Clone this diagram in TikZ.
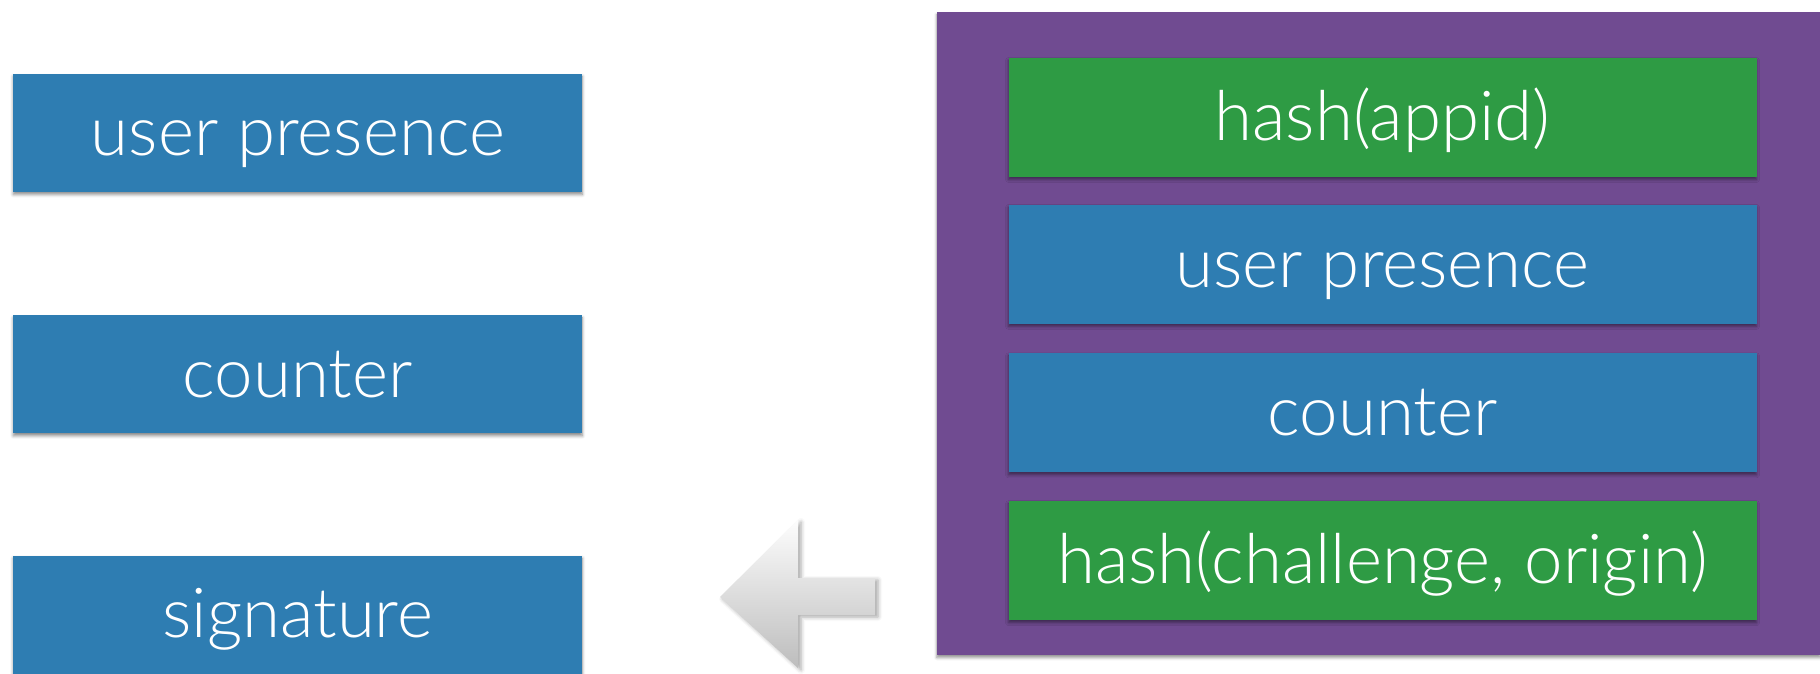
\documentclass[tikz,border=0pt]{standalone}
\usepackage{fontspec}
\setmainfont{Lato}[UprightFont=* Light]
\usetikzlibrary{positioning, shadows.blur}
\definecolor{cblue}{HTML}{2E7DB2}
\definecolor{cgreen}{HTML}{2E9B44}
\definecolor{cpurple}{HTML}{704B91}
\definecolor{cgrey}{HTML}{D2D2D2}
\tikzset{
  every picture/.style={font=\fontsize{69}{72}\selectfont},
  field/.style={fill=#1, text=white, minimum width=569pt, minimum height=118pt, inner sep=0pt,
    text height=56pt, text depth=10pt,
    blur shadow={shadow xshift=0pt, shadow yshift=-2.5pt, shadow blur radius=3pt, shadow opacity=45}},
  field/.default=cblue,
  msgfield/.style={field=#1, minimum width=748pt, minimum height=119pt},
  msgfield/.default=cblue,
  panel/.style={fill=cpurple, minimum width=883.3pt, minimum height=642.6pt, inner sep=0pt,
    blur shadow={shadow xshift=0pt, shadow yshift=-3pt, shadow blur radius=3pt, shadow opacity=45}},
  bigarrow/.style={top color=white!95!cgrey, bottom color=cgrey!90!black,
    blur shadow={shadow xshift=3pt, shadow yshift=-2pt, shadow blur radius=4pt, shadow opacity=35}},
}

\begin{document}
\begin{tikzpicture}[x=1pt, y=-1pt]
  \useasboundingbox (0,0) rectangle (1820,674);
  \node[panel, anchor=north west] (signed) at (936.7,11.7) {};
  \node[msgfield=cgreen] (appid) at (1382.5,117.5) {hash(appid)};
  \node[msgfield, below=27.5pt of appid] (mpresence) {user presence};
  \node[msgfield, below=29pt of mpresence] (mcounter) {counter};
  \node[msgfield=cgreen, below=28.5pt of mcounter] (client) {hash(challenge, origin)};

  \node[field] (presence) at (297.8,133) {user presence};
  \node[field, below=123pt of presence] (counter) {counter};
  \node[field, below=122pt of counter] (sig) {signature};

  \shade[bigarrow] (720,597) -- (798,520) -- (798,578) -- (875,578) -- (875,615) -- (798,615) -- (798,668) -- cycle;
\end{tikzpicture}
\end{document}
